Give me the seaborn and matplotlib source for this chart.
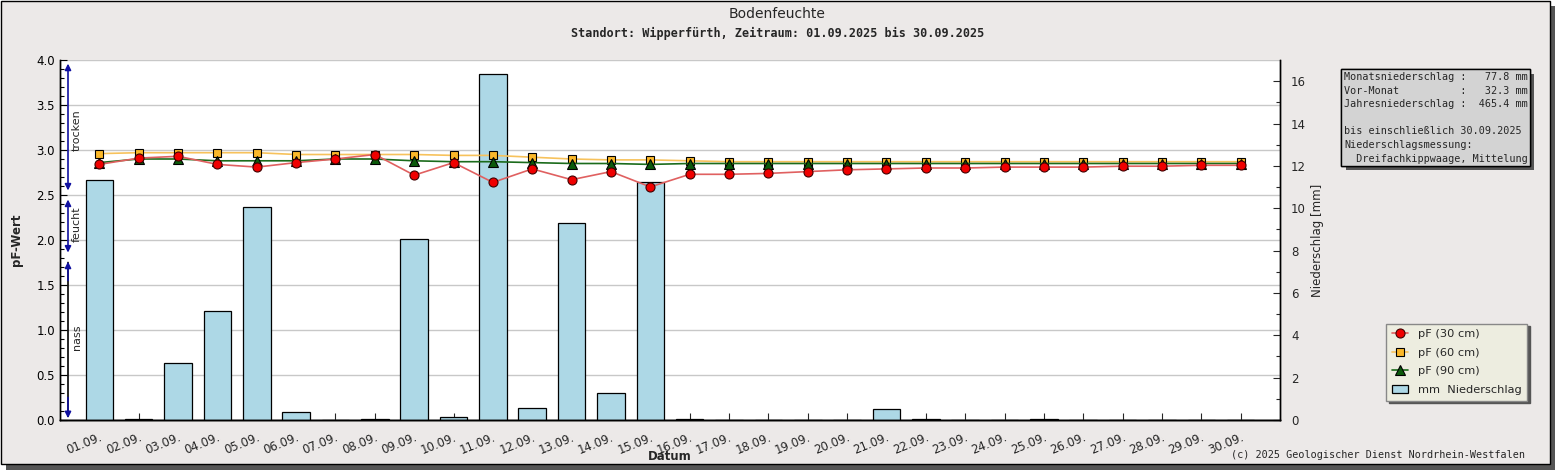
import numpy as np
import pandas as pd
import matplotlib
matplotlib.use("Agg")
import matplotlib.pyplot as plt
import matplotlib.patheffects as pe
from matplotlib.patches import Rectangle
import seaborn as sns

# Tage im September 2025
tage = list(range(1, 31))
datum = [f"{t:02d}.09." for t in tage]

# Niederschlag [mm] je Tag
niederschlag = [11.32, 0.06, 2.67, 5.13, 10.04, 0.36, 0.0, 0.06, 8.54, 0.13,
                16.36, 0.55, 9.28, 1.27, 11.25, 0.06, 0.0, 0.0, 0.0, 0.0,
                0.50, 0.06, 0.0, 0.0, 0.06, 0.0, 0.0, 0.0, 0.0, 0.0]

# pF-Werte in drei Tiefen
pf_30 = [2.84, 2.91, 2.93, 2.84, 2.81, 2.86, 2.90, 2.95, 2.72, 2.86,
         2.64, 2.79, 2.67, 2.76, 2.59, 2.73, 2.73, 2.74, 2.76, 2.78,
         2.79, 2.80, 2.80, 2.81, 2.81, 2.81, 2.82, 2.82, 2.83, 2.83]
pf_60 = [2.96, 2.97, 2.97, 2.97, 2.97, 2.95, 2.95, 2.95, 2.95, 2.94,
         2.94, 2.92, 2.90, 2.89, 2.89, 2.88, 2.87, 2.87, 2.87, 2.87,
         2.87, 2.87, 2.87, 2.87, 2.87, 2.87, 2.87, 2.87, 2.87, 2.87]
pf_90 = [2.86, 2.90, 2.90, 2.88, 2.88, 2.88, 2.90, 2.90, 2.88, 2.87,
         2.87, 2.86, 2.85, 2.85, 2.84, 2.85, 2.85, 2.85, 2.85, 2.85,
         2.85, 2.85, 2.85, 2.85, 2.85, 2.85, 2.85, 2.85, 2.85, 2.85]

info_text = ("Monatsniederschlag :   77.8 mm\n"
             "Vor-Monat          :   32.3 mm\n"
             "Jahresniederschlag :  465.4 mm\n"
             "\n"
             "bis einschließlich 30.09.2025\n"
             "Niederschlagsmessung:\n"
             "  Dreifachkippwaage, Mittelung")

df = pd.DataFrame({"Tag": tage, "mm": niederschlag,
                   "pf30": pf_30, "pf60": pf_60, "pf90": pf_90})

sns.set_theme(style="white")
plt.rcParams["font.family"] = ["DejaVu Sans"]
hintergrund = "#ECE9E8"

fig = plt.figure(figsize=(15.55, 4.7), dpi=100, facecolor="white")

# Rahmen mit Schatten
fig.patches.append(Rectangle((6 / 1555, 0), 1 - 6 / 1555, 1 - 6 / 470,
                             transform=fig.transFigure, facecolor="#555555",
                             edgecolor="none", zorder=-10))
fig.patches.append(Rectangle((0.5 / 1555, 6 / 470), 1549 / 1555, 463.5 / 470,
                             transform=fig.transFigure, facecolor=hintergrund,
                             edgecolor="black", linewidth=1, zorder=-9))

pos = [60 / 1555, 50 / 470, 1220 / 1555, 360 / 470]
ax = fig.add_axes(pos)
ax.set_facecolor("white")
axr = ax.twinx()
axp = ax.twinx()

# Balken Niederschlag (rechte Achse)
sns.barplot(data=df, x="Tag", y="mm", native_scale=True, ax=axr,
            color="#ADD8E6", edgecolor="black", linewidth=0.9, width=0.7,
            saturation=1, label="mm  Niederschlag")

# pF Linien
sns.lineplot(data=df, x="Tag", y="pf60", ax=axp, color="#F7C25C", linewidth=1.2,
             marker="s", markersize=6, markerfacecolor="#FBB829",
             markeredgecolor="black", markeredgewidth=0.8, label="pF (60 cm)")
sns.lineplot(data=df, x="Tag", y="pf90", ax=axp, color="#1B6B1B", linewidth=1.2,
             marker="^", markersize=6.5, markerfacecolor="#0B5A0B",
             markeredgecolor="black", markeredgewidth=0.8, label="pF (90 cm)")
sns.lineplot(data=df, x="Tag", y="pf30", ax=axp, color="#E06060", linewidth=1.2,
             marker="o", markersize=6.5, markerfacecolor="#F00000",
             markeredgecolor="#400000", markeredgewidth=0.8, label="pF (30 cm)")

for a in (ax, axr, axp):
    a.set_xlim(0, 31)
ax.set_ylim(0, 4)
axp.set_ylim(0, 4)
axr.set_ylim(0, 17)

# Reihenfolge der Ebenen
axr.set_zorder(ax.get_zorder() + 1)
axp.set_zorder(ax.get_zorder() + 2)
axr.patch.set_visible(False)
axp.patch.set_visible(False)

# Gitter auf der Grundachse
ax.set_yticks(np.arange(0, 4.01, 0.5))
ax.set_yticks(np.arange(0, 4.01, 0.1), minor=True)
ax.yaxis.set_major_formatter(matplotlib.ticker.FormatStrFormatter("%.1f"))
ax.grid(axis="y", color="#C8C8C8", linewidth=1)
ax.grid(axis="x", visible=False)
ax.tick_params(axis="y", which="both", direction="in", left=True,
               labelsize=8.5, length=5, width=0.8, colors="black")
ax.tick_params(axis="y", which="minor", length=3)

ax.set_xticks(tage)
ax.set_xticklabels(datum, rotation=22, ha="right", rotation_mode="anchor",
                   fontsize=8.5)
ax.tick_params(axis="x", direction="in", bottom=True, length=5, width=0.8,
               pad=8)

axr.set_yticks(np.arange(0, 17, 2))
axr.set_yticks(np.arange(0, 17, 1), minor=True)
axr.tick_params(axis="y", which="both", direction="in", right=True,
                labelsize=8.5, length=5, width=0.8, pad=8)
axr.tick_params(axis="y", which="minor", length=3)
axr.set_xlabel("")
axr.set_ylabel("")
axr.tick_params(axis="x", bottom=False, labelbottom=False)

axp.set_xlabel("")
axp.set_ylabel("")
axp.set_yticks([])
axp.tick_params(axis="x", bottom=False, labelbottom=False)

for a in (ax, axr, axp):
    a.spines["top"].set_visible(False)
    for s in ("left", "right", "bottom"):
        a.spines[s].set_color("black")
        a.spines[s].set_linewidth(1)
axp.spines["left"].set_visible(False)
axp.spines["right"].set_visible(False)

ax.set_xlabel("")
ax.set_ylabel("")

# Bereiche trocken / feucht / nass
bx = 8 / 1220
trans = matplotlib.transforms.blended_transform_factory(ax.transAxes, ax.transData)
for y0, y1, farbe in [(3.96, 2.55, "#1010A0"), (2.45, 1.86, "#1010A0")]:
    ax.annotate("", xy=(bx, y0), xytext=(bx, y1), xycoords=trans, textcoords=trans,
                arrowprops=dict(arrowstyle="<|-|>", color=farbe, lw=1.2,
                                mutation_scale=9, shrinkA=0, shrinkB=0))
ax.annotate("", xy=(bx, 0.04), xytext=(bx, 1.75), xycoords=trans, textcoords=trans,
            arrowprops=dict(arrowstyle="-", color="black", lw=1.2,
                            shrinkA=0, shrinkB=0))
ax.annotate("", xy=(bx, 0.02), xytext=(bx, 0.25), xycoords=trans, textcoords=trans,
            arrowprops=dict(arrowstyle="-|>", color="#1010A0", lw=1.2,
                            mutation_scale=9, shrinkA=0, shrinkB=0))
ax.annotate("", xy=(bx, 1.76), xytext=(bx, 1.55), xycoords=trans, textcoords=trans,
            arrowprops=dict(arrowstyle="-|>", color="#1010A0", lw=1.2,
                            mutation_scale=9, shrinkA=0, shrinkB=0))
for txt, yc in [("trocken", 3.22), ("feucht", 2.18), ("nass", 0.92)]:
    ax.text(17 / 1220, yc, txt, transform=trans, rotation=90, fontsize=8,
            ha="center", va="center")

# Titel und Beschriftungen
fig.text(0.5, 1 - 14 / 470, "Bodenfeuchte", ha="center", va="center",
         fontsize=10)
fig.text(0.5, 1 - 33 / 470,
         "Standort: Wipperfürth, Zeitraum: 01.09.2025 bis 30.09.2025",
         ha="center", va="center", fontsize=8.5, fontweight="bold",
         family="DejaVu Sans Mono")
fig.text(16 / 1555, 1 - 240 / 470, "pF-Wert", rotation=90, ha="center",
         va="center", fontsize=8.5, fontweight="bold")
fig.text(1318 / 1555, 1 - 240 / 470, "Niederschlag [mm]", rotation=90,
         ha="center", va="center", fontsize=8.5)
fig.text(670 / 1555, 1 - 457 / 470, "Datum", ha="center", va="center",
         fontsize=8.5, fontweight="bold")
fig.text(1525 / 1555, 1 - 455 / 470,
         "(c) 2025 Geologischer Dienst Nordrhein-Westfalen", ha="right",
         va="center", fontsize=7.3, family="DejaVu Sans Mono")

info = fig.text(1344 / 1555, 1 - 72 / 470, info_text, ha="left", va="top",
                fontsize=7.3, family="DejaVu Sans Mono", linespacing=1.45,
                bbox=dict(boxstyle="square,pad=0.25", facecolor="#D3D3D3",
                          edgecolor="black", linewidth=1))
info.get_bbox_patch().set_path_effects(
    [pe.withSimplePatchShadow(offset=(3, -3), shadow_rgbFace="#555555", alpha=1),
     pe.Normal()])

# Legende
h_lines, l_lines = axp.get_legend_handles_labels()
h_bar, l_bar = axr.get_legend_handles_labels()
for a in (axr, axp):
    if a.get_legend() is not None:
        a.get_legend().remove()
order = ["pF (30 cm)", "pF (60 cm)", "pF (90 cm)"]
handles = [h_lines[l_lines.index(n)] for n in order] + h_bar[:1]
labels = order + ["mm  Niederschlag"]
leg = fig.legend(handles, labels, loc="upper right",
                 bbox_to_anchor=(1533 / 1555, 1 - 318 / 470), fontsize=8.2,
                 frameon=True, fancybox=False, shadow={"color": "#555555",
                                                       "alpha": 1},
                 facecolor="#EDEDE0", edgecolor="#888888", framealpha=1,
                 handlelength=1.4, borderpad=0.5, labelspacing=0.75,
                 handletextpad=0.9)
leg.get_frame().set_linewidth(1)

fig.savefig("out.png", dpi=100, facecolor=fig.get_facecolor())
